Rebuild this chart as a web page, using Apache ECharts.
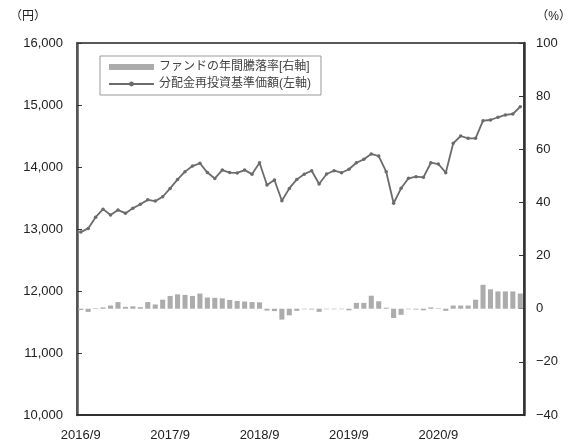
<!DOCTYPE html>
<html><head><meta charset="utf-8">
<script src="https://cdn.jsdelivr.net/npm/echarts@6/dist/echarts.min.js"></script>
<style>html,body{margin:0;padding:0;background:#fff}#c{width:573px;height:447px}</style>
</head><body><div id="c"></div>
<script>
// months 2016/9 .. 2021/8
const categories = [];
for (let k = 0; k < 60; k++) { const m = 8 + k; categories.push((2016 + Math.floor(m / 12)) + '/' + (m % 12 + 1)); }
const navValues = [12950,13010,13190,13320,13225,13305,13255,13335,13400,13470,13450,13520,
  13655,13800,13925,14015,14060,13910,13815,13950,13910,13905,13950,13885,
  14070,13710,13790,13455,13655,13800,13885,13940,13725,13887,13940,13908,
  13963,14069,14124,14210,14177,13924,13415,13656,13818,13844,13834,14069,
  14048,13908,14382,14500,14463,14463,14747,14758,14802,14839,14855,14973];
const returnValues = [-0.5,-1.2,0.2,0.5,1.2,2.5,0.7,0.9,0.6,2.5,1.6,3.4,
  4.8,5.4,5.2,4.8,5.7,4.2,4.1,3.9,3.3,2.9,2.7,2.5,
  2.4,-0.7,-0.9,-4.1,-2.5,-0.8,-0.2,-0.3,-1.2,-0.2,-0.2,-0.2,
  -0.6,2.2,2.2,4.9,2.8,0.4,-3.5,-2.3,-0.2,-0.3,-0.6,0.5,
  0.2,-0.8,1.2,1.2,1.2,3.4,9.0,7.3,6.5,6.5,6.5,5.7];
const barName = 'ファンドの年間騰落率[右軸]';
const lineName = '分配金再投資基準価額(左軸)';
const FONT = '"Liberation Sans", "Noto Sans CJK JP", sans-serif';

const chart = echarts.init(document.getElementById('c'));
chart.setOption({
  animation: false,
  textStyle: { fontFamily: FONT },
  grid: { left: 77, right: 49, top: 43, bottom: 32, show: true, borderColor: '#222', borderWidth: 1.5, backgroundColor: '#fff' },
  legend: {
    orient: 'vertical', left: 100, top: 56, itemWidth: 45, itemHeight: 6, itemGap: 5,
    padding: [5, 10, 5, 8], borderColor: '#999', borderWidth: 1, backgroundColor: '#fff',
    textStyle: { fontSize: 12, color: '#444', fontFamily: FONT },
    data: [ { name: barName, icon: 'rect' }, { name: lineName } ]
  },
  xAxis: {
    type: 'category', data: categories, boundaryGap: true,
    axisLine: { show: true, onZero: false, lineStyle: { color: '#222', width: 1.5 } },
    axisTick: { show: false },
    axisLabel: { interval: (i) => i % 12 === 0, color: '#222', fontSize: 13, margin: 14, fontFamily: FONT },
    splitLine: { show: false }
  },
  yAxis: [
    { type: 'value', min: 10000, max: 16000, interval: 1000, position: 'left',
      axisLine: { show: true, lineStyle: { color: '#555', width: 2.5 } },
      axisTick: { show: true, inside: true, length: 5, lineStyle: { color: '#333' } },
      axisLabel: { color: '#222', fontSize: 13, margin: 14, formatter: v => v.toLocaleString('en-US') },
      splitLine: { show: false } },
    { type: 'value', min: -40, max: 100, interval: 20, position: 'right',
      axisLine: { show: true, lineStyle: { color: '#333', width: 2.5 } },
      axisTick: { show: true, inside: true, length: 5, lineStyle: { color: '#333' } },
      axisLabel: { color: '#222', fontSize: 13, margin: 12, formatter: v => String(v).replace('-', '−') },
      splitLine: { show: false } }
  ],
  graphic: [
    { type: 'text', left: 10, top: 11, style: { text: '（円）', fontSize: 12, fill: '#222', fontFamily: FONT } },
    { type: 'text', right: 2, top: 11, style: { text: '（%）', fontSize: 12, fill: '#222', fontFamily: FONT } }
  ],
  series: [
    { name: barName, type: 'bar', yAxisIndex: 1, data: returnValues, barWidth: '68%',
      itemStyle: { color: '#acacac' }, z: 2 },
    { name: lineName, type: 'line', yAxisIndex: 0, data: navValues,
      symbol: 'circle', symbolSize: 3.5, showSymbol: true,
      lineStyle: { color: '#6b6b6b', width: 1.8 }, itemStyle: { color: '#6b6b6b' }, z: 3 }
  ]
});
</script></body></html>
